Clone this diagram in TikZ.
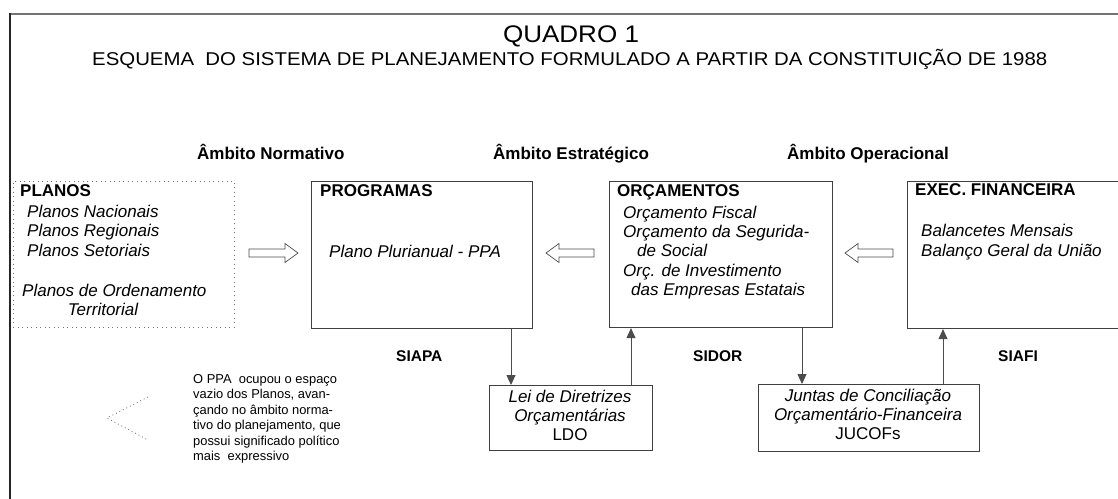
\documentclass[tikz,border=0pt]{standalone}
\usepackage{fontspec}
\setmainfont{Liberation Sans}
\usepackage{graphicx}
\usetikzlibrary{arrows.meta}
\newcommand\blkR[3]{\draw[blockarrow] (#1,#3-4) -- (#2-13,#3-4) -- (#2-13,#3-9.5) -- (#2,#3) -- (#2-13,#3+9.5) -- (#2-13,#3+4) -- (#1,#3+4) -- cycle;}
\newcommand\blkL[3]{\draw[blockarrow] (#1,#3-4) -- (#2+13,#3-4) -- (#2+13,#3-9.5) -- (#2,#3) -- (#2+13,#3+9.5) -- (#2+13,#3+4) -- (#1,#3+4) -- cycle;}
\begin{document}
\begin{tikzpicture}[x=1pt,y=-1pt,
  box/.style={draw=black!75, line width=1.1pt, inner sep=0pt, anchor=north west},
  it/.style={anchor=base west, inner sep=0pt, font=\fontsize{17}{19.5}\selectfont\itshape},
  itc/.style={anchor=base, inner sep=0pt, font=\fontsize{17}{19.5}\selectfont\itshape},
  rmc/.style={anchor=base, inner sep=0pt, font=\fontsize{17}{19.5}\selectfont},
  hdr/.style={anchor=base west, inner sep=0pt, font=\fontsize{17}{19.5}\selectfont\bfseries},
  sys/.style={anchor=base west, inner sep=0pt, font=\fontsize{15.5}{17}\selectfont\bfseries},
  note/.style={anchor=base west, inner sep=0pt, font=\fontsize{12.9}{15.5}\selectfont},
  conn/.style={draw=black!70, line width=0.9pt, -{Triangle[width=9pt,length=10pt]}},
  blockarrow/.style={draw=black!70, line width=0.7pt, fill=white}]
\clip (0,0) rectangle (1118,498);
\fill[white] (0,0) rectangle (1118,498);
% frame
\draw[black!55, line width=2pt] (10,14) -- (1122,14);
\draw[black!85, line width=2pt] (10,13) -- (10,502);
% title
\node[anchor=base, inner sep=0pt] (title) at (571,42) {\fontsize{24}{25}\selectfont\resizebox{136pt}{\height}{QUADRO 1}};
\node[anchor=base west, inner sep=0pt] (subtitle) at (92,65) {\fontsize{18.5}{19}\selectfont\resizebox{955pt}{\height}{ESQUEMA\ \ DO SISTEMA DE PLANEJAMENTO FORMULADO A PARTIR DA CONSTITUIÇÃO DE 1988}};
% scope headers
\node[hdr] (hn) at (197,159) {Âmbito Normativo};
\node[hdr] (he) at (493,159) {Âmbito Estratégico};
\node[hdr] (ho) at (787,159) {Âmbito Operacional};
% boxes
\node[box, draw=black!55, line width=0.9pt, dash pattern=on 1pt off 3.5pt, minimum width=221pt, minimum height=146pt] (planos) at (13,181) {};
\node[box, minimum width=221pt, minimum height=147pt] (prog) at (311,181) {};
\node[box, minimum width=223pt, minimum height=146pt] (orc) at (609,181) {};
\node[box, minimum width=240pt, minimum height=147pt] (exec) at (907,181) {};
\node[box, minimum width=163pt, minimum height=65pt] (ldo) at (489,385) {};
\node[box, minimum width=221pt, minimum height=67pt] (jucof) at (758,384) {};
% PLANOS text
\node[hdr] (tpl) at (20,196) {PLANOS};
\node[it] (tpl1) at (27,217) {Planos Nacionais};
\node[it] (tpl2) at (27,236.5) {Planos Regionais};
\node[it] (tpl3) at (27,256) {Planos Setoriais};
\node[it] (tpl4) at (22,296) {Planos de Ordenamento};
\node[itc] (tpl5) at (103,315) {Territorial};
% PROGRAMAS text
\node[hdr] (tpr) at (320,196) {PROGRAMAS};
\node[it] (tpr1) at (329,257) {Plano Plurianual - PPA};
% ORCAMENTOS text
\node[hdr] (tor) at (617,196) {ORÇAMENTOS};
\node[it] (tor1) at (623,218) {Orçamento Fiscal};
\node[it] (tor2) at (623,237) {Orçamento da Segurida-};
\node[it] (tor3) at (637,256) {de Social};
\node[it] (tor4) at (623,276) {Orç. de Investimento};
\node[it] (tor5) at (631,295) {das Empresas Estatais};
% EXEC text
\node[hdr] (tex) at (915,195) {EXEC. FINANCEIRA};
\node[it] (tex1) at (921,236) {Balancetes Mensais};
\node[it] (tex2) at (921,256) {Balanço Geral da União};
% LDO text
\node[itc] (tl1) at (570,402) {Lei de Diretrizes};
\node[itc] (tl2) at (570,421) {Orçamentárias};
\node[rmc] (tl3) at (570,440) {LDO};
% JUCOF text
\node[itc] (tj1) at (868,401) {Juntas de Conciliação};
\node[itc] (tj2) at (868,420) {Orçamentário-Financeira};
\node[rmc] (tj3) at (868,439) {JUCOFs};
% systems
\node[sys] (siapa) at (396,361) {SIAPA};
\node[sys] (sidor) at (693,361) {SIDOR};
\node[sys] (siafi) at (998,361) {SIAFI};
% note
\node[note] (n1) at (193,383) {O PPA\ \ ocupou o espaço};
\node[note] (n2) at (193,398.5) {vazio dos Planos, avan-};
\node[note] (n3) at (193,414) {çando no âmbito norma-};
\node[note] (n4) at (193,429.5) {tivo do planejamento, que};
\node[note] (n5) at (193,445) {possui significado político};
\node[note] (n6) at (193,460.5) {mais\ \ expressivo};
% dotted chevron
\draw[black!50, line width=0.9pt, dash pattern=on 0.9pt off 3pt] (148,397) -- (107,418) -- (148,440);
% block arrows
\blkR{249}{298}{253}
\blkL{594}{546}{253}
\blkL{893}{845}{253}
% thin connectors
\coordinate (c1) at (511,0);
\coordinate (c2) at (631,0);
\coordinate (c3) at (802,0);
\coordinate (c4) at (943,0);
\draw[conn] (prog.south -| c1) -- (ldo.north -| c1);
\draw[conn] (ldo.north -| c2) -- (orc.south -| c2);
\draw[conn] (orc.south -| c3) -- (jucof.north -| c3);
\draw[conn] (jucof.north -| c4) -- (exec.south -| c4);
\end{tikzpicture}
\end{document}
